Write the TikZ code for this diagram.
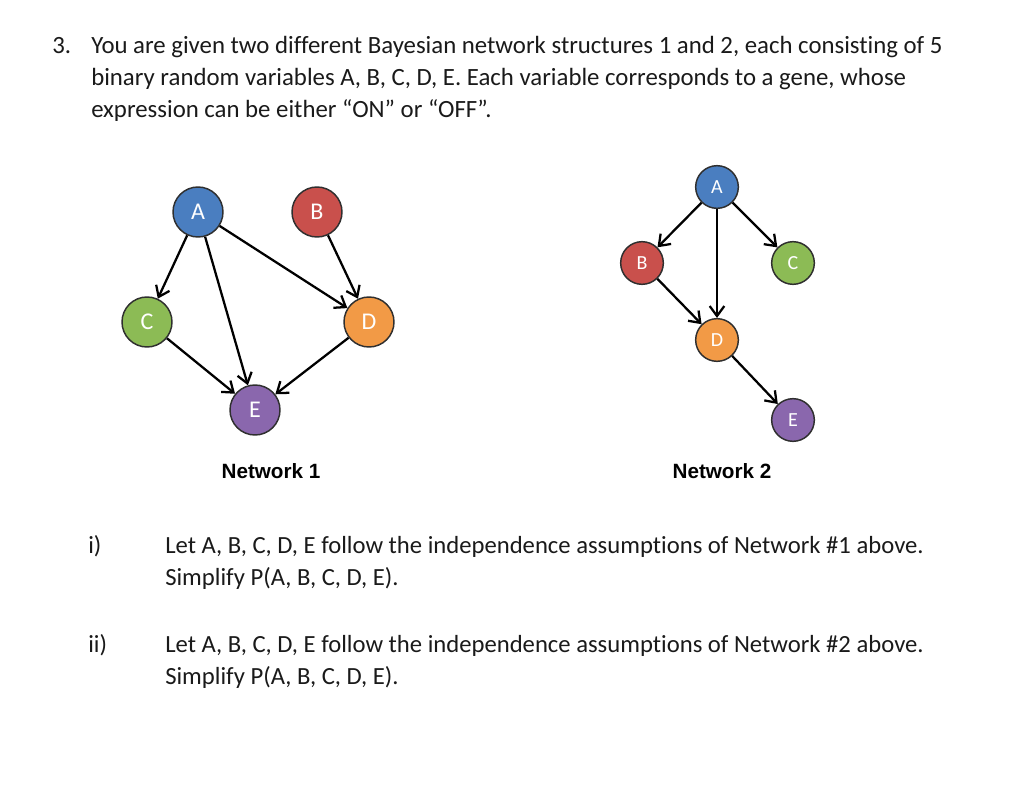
\documentclass[tikz,border=0pt]{standalone}
\usepackage{fontspec}
\setmainfont{Carlito}[Ligatures=NoCommon]
\newfontfamily\netfont{Liberation Sans}
\usetikzlibrary{arrows.meta, positioning}
\definecolor{bnA}{HTML}{4A7EC0}
\definecolor{bnB}{HTML}{C9504C}
\definecolor{bnC}{HTML}{8CBB55}
\definecolor{bnD}{HTML}{F29A46}
\definecolor{bnE}{HTML}{8A67AD}
\definecolor{bnRim}{HTML}{2F2F2F}
\definecolor{bnText}{HTML}{1A1A1A}
\tikzset{
  gene/.style={
    circle, draw=bnRim, line width=1.1pt, minimum size=37.5pt, inner sep=0pt,
    text=white, font=\fontsize{18}{18}\selectfont
  },
  genesm/.style={gene, minimum size=32pt, font=\fontsize{15}{15}\selectfont},
  dep/.style={-{Straight Barb[length=7.5pt, width=11pt]}, line width=1.7pt, black},
  body/.style={anchor=base west, inner sep=0pt, font=\fontsize{18.6}{22}\selectfont, text=bnText},
  part/.style={body, font=\fontsize{18.5}{22}\selectfont},
  netlabel/.style={anchor=base, inner sep=0pt, font=\netfont\bfseries\fontsize{15.5}{18}\selectfont}
}

\begin{document}
\begin{tikzpicture}[x=0.75pt, y=-0.75pt]
  \useasboundingbox[fill=white] (0,0) rectangle (1022,796);

  % question text
  \node[body] (qnum) at (52,53) {3.};
  \node[body] (qline1) at (91,53) {You are given two different Bayesian network structures 1 and 2, each consisting of 5};
  \node[body] (qline2) at (91,85) {binary random variables A, B, C, D, E. Each variable corresponds to a gene, whose};
  \node[body] (qline3) at (91,117) {expression can be either “ON” or “OFF”.};

  % network 1
  \node[gene, fill=bnA] (a1) at (198,212) {A};
  \node[gene, fill=bnB] (b1) at (317,212) {B};
  \node[gene, fill=bnC] (c1) at (147,322) {C};
  \node[gene, fill=bnD] (d1) at (369,322) {D};
  \node[gene, fill=bnE] (e1) at (255,410) {E};
  \draw[dep] (a1) -- (c1);
  \draw[dep] (a1) -- (e1);
  \draw[dep] (a1) -- (d1);
  \draw[dep] (b1) -- (d1);
  \draw[dep] (c1) -- (e1);
  \draw[dep] (d1) -- (e1);
  \node[netlabel] (net1) at (271,478) {Network 1};

  % network 2
  \node[genesm, fill=bnA] (a2) at (717,187) {A};
  \node[genesm, fill=bnB] (b2) at (642,263) {B};
  \node[genesm, fill=bnC] (c2) at (793,263) {C};
  \node[genesm, fill=bnD] (d2) at (717,340) {D};
  \node[genesm, fill=bnE] (e2) at (793,420) {E};
  \draw[dep] (a2) -- (b2);
  \draw[dep] (a2) -- (c2);
  \draw[dep] (a2) -- (d2);
  \draw[dep] (b2) -- (d2);
  \draw[dep] (d2) -- (e2);
  \node[netlabel] (net2) at (722,478) {Network 2};

  % parts
  \node[part] (inum) at (88,553) {i)};
  \node[part] (iline1) at (165,553) {Let A, B, C, D, E follow the independence assumptions of Network \#1 above.};
  \node[part] (iline2) at (165,585) {Simplify P(A, B, C, D, E).};
  \node[part] (iinum) at (88,652) {ii)};
  \node[part] (iiline1) at (165,652) {Let A, B, C, D, E follow the independence assumptions of Network \#2 above.};
  \node[part] (iiline2) at (165,684) {Simplify P(A, B, C, D, E).};
\end{tikzpicture}
\end{document}
